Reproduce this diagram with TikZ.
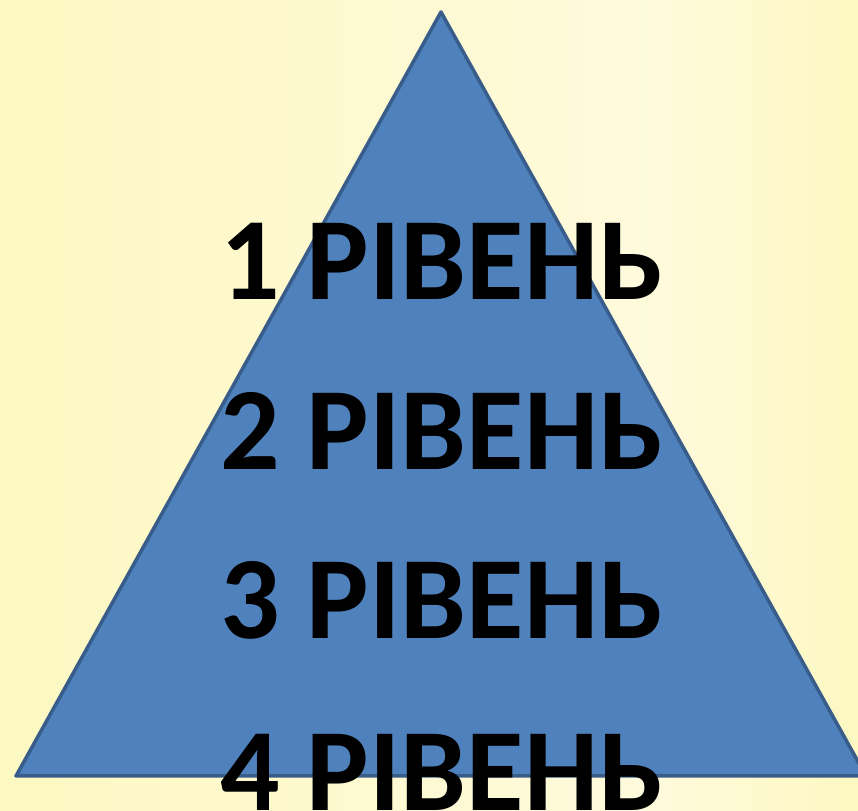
\documentclass[tikz,border=0pt]{standalone}
\usepackage{fontspec}
\setmainfont{Carlito}
\usetikzlibrary{positioning,calc}
\definecolor{bgyellow}{HTML}{FCF8C2}
\definecolor{bglight}{HTML}{FEFADC}
\definecolor{pyrfill}{HTML}{4F81BD}
\definecolor{pyrline}{HTML}{385D8A}
\tikzset{
  pyramid/.style={fill=pyrfill,draw=pyrline,line width=3.5pt,line join=round},
  level/.style={anchor=base,inner sep=0pt,font=\fontsize{117.5}{117.5}\selectfont\bfseries}
}
\begin{document}
\begin{tikzpicture}[x=1pt,y=1pt]
  % Background and page size
  \useasboundingbox (0,0) rectangle (858,810);
  \clip (0,0) rectangle (858,810);
  \shade[left color=bgyellow,right color=bglight] (0,0) rectangle (650,810);
  \shade[left color=bglight,right color=bgyellow] (650,0) rectangle (858,810);
  % Pyramid
  \coordinate (apex) at (441,798);
  \coordinate (bl) at (16,34);
  \coordinate (br) at (866,34);
  \draw[pyramid] (apex) -- (bl) -- (br) -- cycle;
  % Level labels
  \foreach \i/\y in {1/510,2/340,3/171,4/0}
    \node[level] (lvl\i) at (442,\y) {\i\ РІВЕНЬ};
\end{tikzpicture}
\end{document}
